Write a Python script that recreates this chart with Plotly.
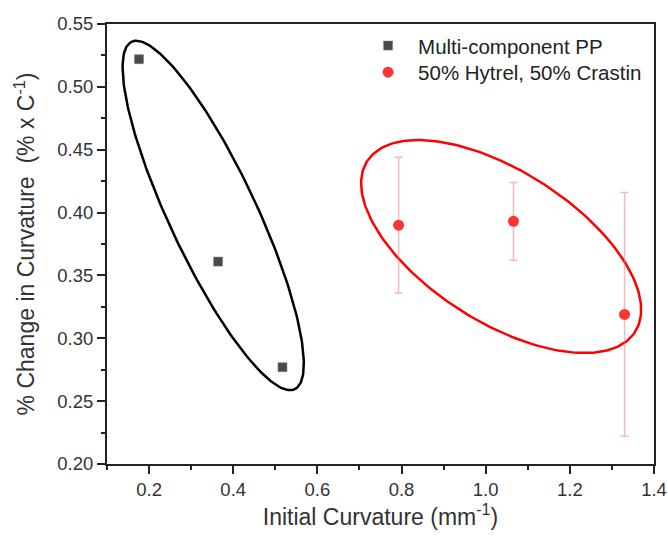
import numpy as np
import plotly.graph_objects as go

# ---- data ----
pp_x = [0.176, 0.364, 0.517]
pp_y = [0.522, 0.361, 0.277]

hc_x = [0.793, 1.066, 1.330]
hc_y = [0.390, 0.393, 0.319]
hc_err = [0.054, 0.031, 0.097]

x_ticks = [0.2, 0.4, 0.6, 0.8, 1.0, 1.2, 1.4]
y_ticks = [0.20, 0.25, 0.30, 0.35, 0.40, 0.45, 0.50, 0.55]

# ---- layout geometry ----
W, H = 668, 536
ML, MR, MT, MB = 107, 14, 24, 72
XR = [0.1, 1.4]
YR = [0.2, 0.55]
px_per_x = (W - ML - MR) / (XR[1] - XR[0])
px_per_y = (H - MT - MB) / (YR[1] - YR[0])

FONT = "Liberation Sans, Arial, sans-serif"


def ellipse(cx, cy, half_h_px, half_w_px, slope, n=240):
    """Ellipse given centre (data), vertical half-extent, horizontal half-width at
    centre (pixels) and the slope (dx/dy, pixels) of its horizontal-chord midline."""
    t = np.linspace(0, 2 * np.pi, n)
    dy = half_h_px * np.sin(t)            # screen px, down
    dx = slope * dy + half_w_px * np.cos(t)
    return cx + dx / px_per_x, cy - dy / px_per_y


fig = go.Figure()

ex, ey = ellipse(0.3524, 0.3977, 174.7, 48, 0.44)
fig.add_trace(go.Scatter(x=ex, y=ey, mode="lines", line=dict(color="black", width=2.5),
                         showlegend=False, hoverinfo="skip"))
rx, ry = ellipse(1.0367, 0.373, 106.5, 112.7, 0.78)
fig.add_trace(go.Scatter(x=rx, y=ry, mode="lines", line=dict(color="#ff0000", width=2.5),
                         showlegend=False, hoverinfo="skip"))

fig.add_trace(go.Scatter(
    x=pp_x, y=pp_y, mode="markers", name="Multi-component PP", legend="legend",
    marker=dict(symbol="square", size=9, color="#4a4a4a", line=dict(color="#777777", width=0.5)),
))
fig.add_trace(go.Scatter(
    x=hc_x, y=hc_y, mode="markers", name="50% Hytrel, 50% Crastin", legend="legend2",
    marker=dict(symbol="circle", size=11, color="#ff3333"),
    error_y=dict(type="data", array=hc_err, visible=True, color="rgba(230,120,120,0.5)",
                 thickness=1.5, width=4),
))

axis_common = dict(
    showline=True, linecolor="#222222", linewidth=2, mirror=True,
    ticks="outside", ticklen=8, tickwidth=1.5, tickcolor="#222222",
    showgrid=False, zeroline=False, automargin=False,
    tickfont=dict(family=FONT, size=18.5, color="#333333"),
)

fig.update_xaxes(
    range=XR, tickvals=x_ticks, ticktext=[f"{v:.1f}" for v in x_ticks],
    minor=dict(ticks="outside", ticklen=4, tickwidth=1.5, tickcolor="#222222", dtick=0.1, tick0=0.1),
    title=dict(text="Initial Curvature (mm<sup>-1</sup>)", standoff=6,
               font=dict(family=FONT, size=23, color="#333333")),
    **axis_common,
)
fig.update_yaxes(
    range=YR, tickvals=y_ticks, ticktext=[f"{v:.2f}" for v in y_ticks],
    minor=dict(ticks="outside", ticklen=4, tickwidth=1.5, tickcolor="#222222", dtick=0.025, tick0=0.2),
    title=dict(text="% Change in Curvature  (% x C<sup>-1</sup>)", standoff=16,
               font=dict(family=FONT, size=23, color="#333333")),
    **axis_common,
)

leg_common = dict(xanchor="left", yanchor="top", bgcolor="rgba(0,0,0,0)", borderwidth=0,
                  font=dict(family=FONT, size=20.5, color="#222222"), itemwidth=50)

fig.update_layout(
    width=W, height=H,
    margin=dict(l=ML, r=MR, t=MT, b=MB),
    plot_bgcolor="white", paper_bgcolor="white",
    legend=dict(x=0.459, y=0.996, **leg_common),
    legend2=dict(x=0.459, y=0.9355, **leg_common),
)

fig.write_html(
    "out.html",
    config={"displayModeBar": False},
    post_script="document.body.style.margin='0';document.body.style.overflow='hidden';",
)
